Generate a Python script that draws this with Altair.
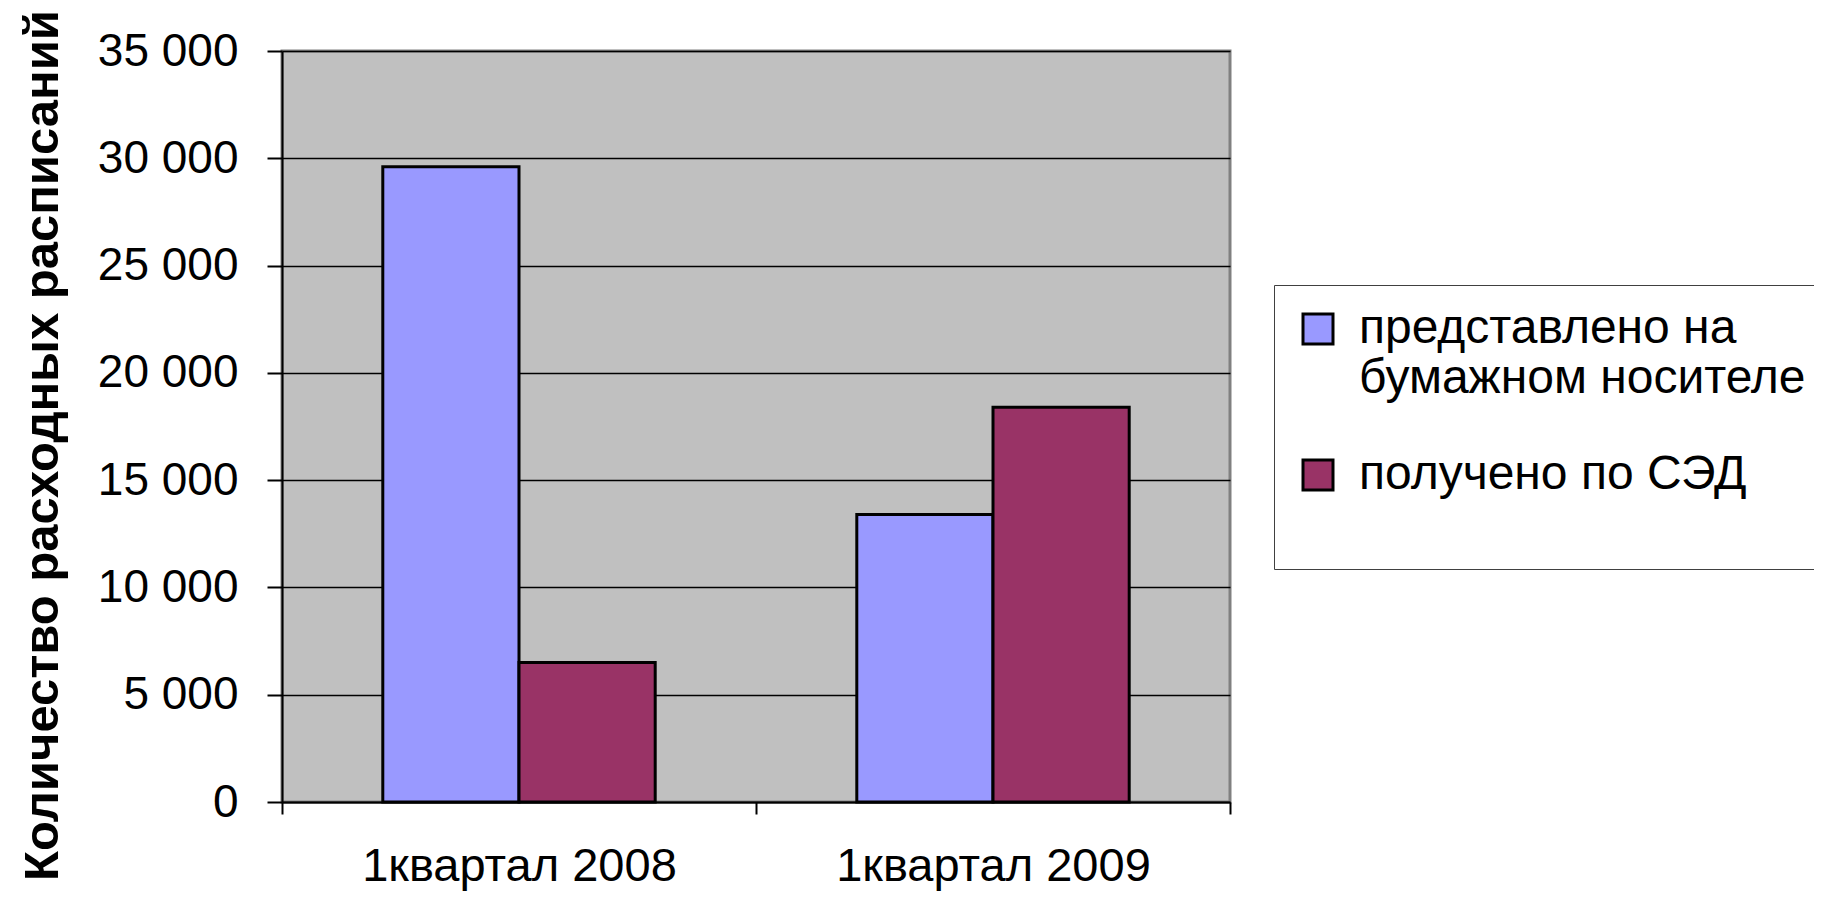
import altair as alt
import pandas as pd

categories = ["1квартал 2008", "1квартал 2009"]
series = ["представлено на бумажном носителе", "получено по СЭД"]
paper_values = [29600, 13400]
sed_values = [6500, 18400]
colors = ["#9999FF", "#993366"]
y_ticks = [0, 5000, 10000, 15000, 20000, 25000, 30000, 35000]
y_title = "Количество расходных расписаний"

rows = []
for c, p, s in zip(categories, paper_values, sed_values):
    rows.append({"cat": c, "series": series[0], "value": p})
    rows.append({"cat": c, "series": series[1], "value": s})
df = pd.DataFrame(rows)

FONT = "Liberation Sans"

label_expr = ("datum.label == 'представлено на бумажном носителе' ? "
              "['представлено на', 'бумажном носителе'] : datum.label")

chart = alt.Chart(df).mark_bar(stroke="black", strokeWidth=3).encode(
    x=alt.X("cat:N", sort=categories,
            scale=alt.Scale(paddingInner=0, paddingOuter=0),
            axis=alt.Axis(title=None, labelAngle=0, labelFontSize=47, labelFont=FONT,
                          labelColor="black", labelLimit=0, tickBand="extent", tickSize=12,
                          tickColor="black", tickWidth=2, domainColor="black",
                          domainWidth=2, labelPadding=29, grid=False)),
    xOffset=alt.XOffset("series:N", sort=series,
                        scale=alt.Scale(paddingInner=0, paddingOuter=0.74)),
    y=alt.Y("value:Q", scale=alt.Scale(domain=[0, 35000], nice=False),
            axis=alt.Axis(values=y_ticks, title=y_title,
                          labelExpr="replace(format(datum.value, ','), ',', ' ')",
                          labelFontSize=46, labelFont=FONT, labelColor="black",
                          labelPadding=29, tickSize=15, tickColor="black", tickWidth=2,
                          domainColor="black", domainWidth=2,
                          gridColor="black", gridWidth=1.5,
                          titleFont=FONT, titleFontSize=49, titleFontWeight="bold",
                          titleColor="black", titlePadding=30, titleY=394)),
    color=alt.Color("series:N", sort=series,
                    scale=alt.Scale(domain=series, range=colors),
                    legend=alt.Legend(title=" ", titleOrient="bottom", titleFontSize=40,
                                      titlePadding=10,
                                      orient="none", legendX=992, legendY=234,
                                      fillColor="white", strokeColor="#404040",
                                      padding=20, symbolType="square", symbolSize=900,
                                      symbolStrokeColor="black", symbolStrokeWidth=3,
                                      symbolOpacity=1, labelFontSize=48, labelFont=FONT,
                                      labelColor="black", labelLimit=0, labelOffset=17,
                                      rowPadding=48, labelExpr=label_expr)),
).properties(
    width=948, height=751,
    padding={"left": 274, "top": 43, "right": 584, "bottom": 89},
    autosize=alt.AutoSizeParams(type="none"),
    background="white",
).configure_view(fill="#C0C0C0", stroke="#808080", strokeWidth=3)

chart.save("out.html", embed_options={"renderer": "svg", "actions": False})
